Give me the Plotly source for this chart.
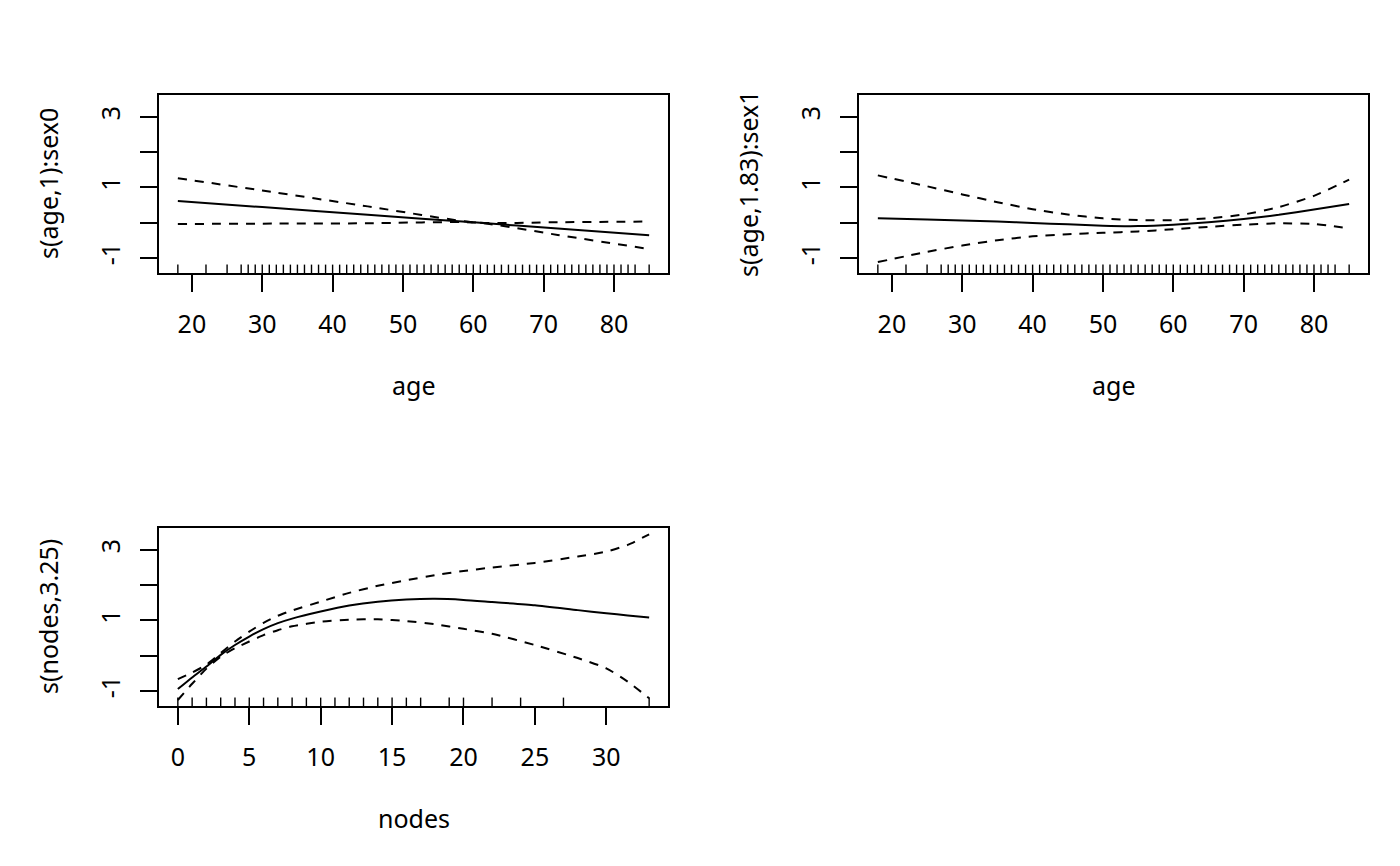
import plotly.graph_objects as go

# ---------------- data ----------------
# panel 1: s(age,1):sex0
age1 = [18, 30, 45, 60.5, 72, 85]
fit1 = [0.61, 0.44, 0.22, 0.00, -0.17, -0.36]
upper1 = [1.26, 0.91, 0.46, 0.00, 0.01, 0.03]
lower1 = [-0.04, -0.03, -0.02, 0.00, -0.35, -0.75]

# panel 2: s(age,1.83):sex1
age2 = [18, 25, 30, 35, 40, 45, 50, 55, 60, 65, 70, 75, 80, 85]
fit2 = [0.12, 0.09, 0.06, 0.03, -0.01, -0.05, -0.09, -0.10, -0.06, 0.01, 0.10, 0.22, 0.37, 0.53]
upper2 = [1.34, 1.03, 0.80, 0.58, 0.38, 0.23, 0.12, 0.07, 0.07, 0.12, 0.23, 0.44, 0.76, 1.22]
lower2 = [-1.12, -0.83, -0.65, -0.50, -0.39, -0.33, -0.29, -0.25, -0.19, -0.12, -0.06, -0.02, -0.04, -0.16]

# panel 3: s(nodes,3.25)
nodes = [0, 1, 2, 3, 4, 5, 6, 7, 8, 10, 12, 14, 16, 18, 20, 22, 25, 28, 30, 31.5, 33]
fit3 = [-0.95, -0.62, -0.31, 0.02, 0.30, 0.54, 0.75, 0.92, 1.05, 1.25, 1.42, 1.53, 1.59, 1.61,
        1.58, 1.52, 1.43, 1.29, 1.20, 1.14, 1.08]
upper3 = [-0.67, -0.48, -0.26, 0.07, 0.40, 0.68, 0.93, 1.13, 1.28, 1.53, 1.78, 1.98, 2.14, 2.28,
          2.40, 2.50, 2.63, 2.81, 2.95, 3.14, 3.44]
lower3 = [-1.26, -0.80, -0.37, -0.03, 0.21, 0.40, 0.58, 0.72, 0.83, 0.96, 1.02, 1.03, 0.98, 0.89,
          0.76, 0.62, 0.30, -0.07, -0.36, -0.74, -1.21]

# rug values (observed covariate values)
rug_age = [18, 22, 25] + list(range(27, 84)) + [85]
rug_nodes = list(range(0, 18)) + [19, 20, 22, 24, 27, 33]

# axis ticks / labels
age_ticks = [20, 30, 40, 50, 60, 70, 80]
node_ticks = [0, 5, 10, 15, 20, 25, 30]
y_ticks = [-1, 0, 1, 2, 3]
y_ticktext = ["-1", "", "1", "", "3"]
ylabels = ["s(age,1):sex0", "s(age,1.83):sex1", "s(nodes,3.25)"]
xlabels = ["age", "age", "nodes"]

# ---------------- layout helpers ----------------
W, H = 1400, 866
OFF = 8  # page body margin in the browser
FONT = "Noto Sans"
FS = 25
y_range = [-1.43, 3.62]
age_range = [15.32, 87.68]
node_range = [-1.32, 34.32]


def px(v):
    return (v - OFF) / W


def py(v):
    return 1 - (v - OFF) / H


panels = [
    dict(x0=159, x1=668, y0=95, y1=273, xr=age_range, xt=age_ticks),
    dict(x0=859, x1=1368, y0=95, y1=273, xr=age_range, xt=age_ticks),
    dict(x0=159, x1=668, y0=528, y1=706, xr=node_range, xt=node_ticks),
]
series = [
    (age1, fit1, upper1, lower1, rug_age),
    (age2, fit2, upper2, lower2, rug_age),
    (nodes, fit3, upper3, lower3, rug_nodes),
]

fig = go.Figure()
LW = 2
for i, (p, (xs, f, u, l, rug)) in enumerate(zip(panels, series)):
    k = "" if i == 0 else str(i + 1)
    xa, ya = "x" + k, "y" + k
    fig.add_trace(go.Scatter(x=xs, y=f, mode="lines", xaxis=xa, yaxis=ya,
                             line=dict(color="black", width=LW, shape="spline", smoothing=0.6),
                             showlegend=False, hoverinfo="skip"))
    for band in (u, l):
        fig.add_trace(go.Scatter(x=xs, y=band, mode="lines", xaxis=xa, yaxis=ya,
                                 line=dict(color="black", width=LW, dash="9px,8px",
                                           shape="spline", smoothing=0.6),
                                 showlegend=False, hoverinfo="skip"))
    fig.add_trace(go.Scatter(x=rug, y=[y_range[0]] * len(rug), mode="markers",
                             xaxis=xa, yaxis=ya, cliponaxis=True,
                             marker=dict(symbol="line-ns", size=12,
                                         line=dict(color="black", width=1.4)),
                             showlegend=False, hoverinfo="skip"))

    axis_common = dict(showline=True, mirror=True, linecolor="black", linewidth=1.6,
                       ticks="outside", ticklen=17, tickwidth=1.6, tickcolor="black",
                       showgrid=False, zeroline=False,
                       tickfont=dict(family=FONT, size=FS, color="black"))
    fig.update_layout(**{
        "xaxis" + k: dict(domain=[px(p["x0"]), px(p["x1"])], range=p["xr"],
                          tickvals=p["xt"], anchor=ya, ticklabelstandoff=11, **axis_common),
        "yaxis" + k: dict(domain=[py(p["y1"]), py(p["y0"])], range=y_range,
                          tickvals=y_ticks, ticktext=y_ticktext, tickangle=-90,
                          anchor=xa, ticklabelstandoff=10, **axis_common),
    })
    # axis titles
    fig.add_annotation(text=xlabels[i], xref="paper", yref="paper",
                       x=px((p["x0"] + p["x1"]) / 2), y=py(p["y1"] + 112),
                       xanchor="center", yanchor="middle", showarrow=False,
                       font=dict(family=FONT, size=FS, color="black"))
    fig.add_annotation(text=ylabels[i], xref="paper", yref="paper",
                       x=px(p["x0"] - 111), y=py((p["y0"] + p["y1"]) / 2),
                       xanchor="center", yanchor="middle", textangle=-90, showarrow=False,
                       font=dict(family=FONT, size=FS, color="black"))

fig.update_layout(width=W, height=H, margin=dict(l=0, r=0, t=0, b=0),
                  paper_bgcolor="white", plot_bgcolor="white",
                  font=dict(family=FONT, size=FS, color="black"))

fig.write_html("out.html")
